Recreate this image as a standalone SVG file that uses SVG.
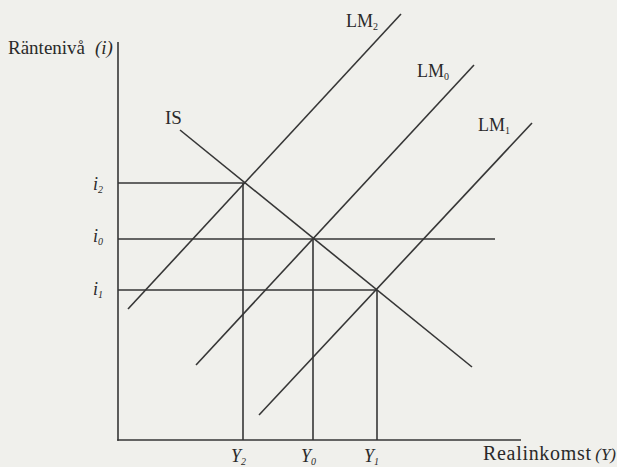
<svg xmlns="http://www.w3.org/2000/svg" width="617" height="467" viewBox="0 0 617 467">
<style>
.ln{stroke:#363636;stroke-width:1.6;fill:none;stroke-linecap:butt}
.t{font-family:"Liberation Serif","Times New Roman",serif;fill:#2a2a2a;font-size:19px}
.it{font-style:italic}
.sub{font-size:10px}
</style>
<rect x="0" y="0" width="617" height="467" fill="#f0f0ec"/>
<g id="axes" class="ln">
<line x1="118" y1="42" x2="118" y2="440.8"/>
<line x1="117.2" y1="440" x2="521" y2="440"/>
</g>
<g id="connectors" class="ln">
<line x1="118" y1="183" x2="245" y2="183"/>
<line x1="118" y1="239" x2="495" y2="239"/>
<line x1="118" y1="290" x2="377" y2="290"/>
<line x1="243" y1="183" x2="243" y2="440"/>
<line x1="313" y1="239" x2="313" y2="440"/>
<line x1="377" y1="290" x2="377" y2="440"/>
</g>
<g id="IS"><line class="ln" x1="180" y1="130" x2="472" y2="367"/><text class="t" x="165" y="124">IS</text></g>
<g id="LM2"><line class="ln" x1="128" y1="309" x2="401" y2="14"/><text class="t" x="346" y="27" style="font-size:18px">LM<tspan class="sub" dy="3">2</tspan></text></g>
<g id="LM0"><line class="ln" x1="196" y1="365" x2="474" y2="65"/><text class="t" x="417" y="77" style="font-size:18px">LM<tspan class="sub" dy="3">0</tspan></text></g>
<g id="LM1"><line class="ln" x1="259" y1="415" x2="532" y2="123"/><text class="t" x="478" y="131" style="font-size:18px">LM<tspan class="sub" dy="3">1</tspan></text></g>
<g id="labels">
<text class="t" x="8" y="54">Räntenivå <tspan class="it" x="95">(i)</tspan></text>
<text class="t it" x="93" y="190" style="font-size:18px">i<tspan class="sub" dy="3">2</tspan></text>
<text class="t it" x="93" y="242" style="font-size:18px">i<tspan class="sub" dy="3">0</tspan></text>
<text class="t it" x="93" y="295" style="font-size:18px">i<tspan class="sub" dy="3">1</tspan></text>
<text class="t it" x="231" y="462" style="font-size:18px">Y<tspan class="sub" dy="3">2</tspan></text>
<text class="t it" x="301" y="462" style="font-size:18px">Y<tspan class="sub" dy="3">0</tspan></text>
<text class="t it" x="364" y="462" style="font-size:18px">Y<tspan class="sub" dy="3">1</tspan></text>
<text class="t" x="483" y="460" style="font-size:20px" textLength="108" lengthAdjust="spacing">Realinkomst</text>
<text class="t it" x="616" y="460" style="font-size:17px" text-anchor="end">(Y)</text>
</g>
</svg>
